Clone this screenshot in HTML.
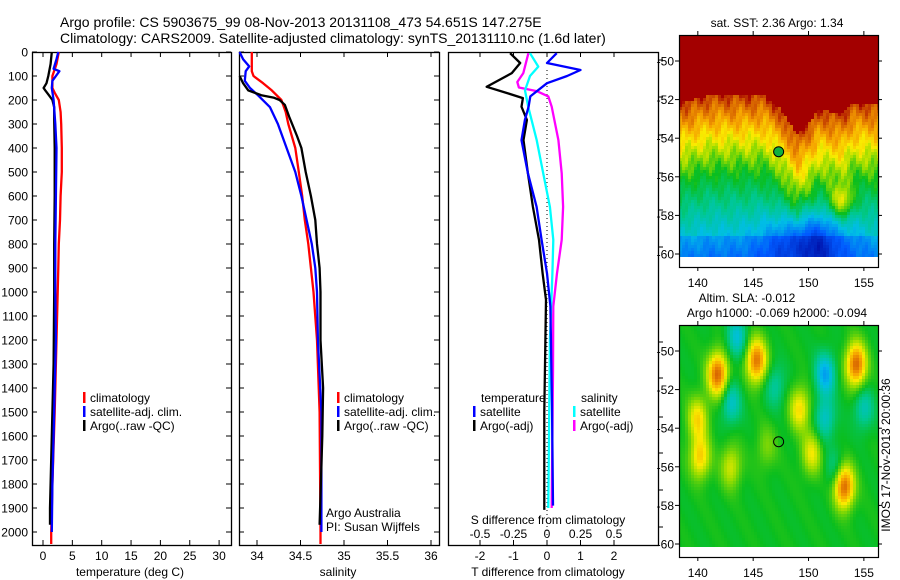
<!DOCTYPE html>
<html><head><meta charset="utf-8">
<style>
html,body{margin:0;padding:0;background:#fff;}
#wrap{position:relative;width:900px;height:580px;overflow:hidden;font-family:"Liberation Sans",sans-serif;}
svg{position:absolute;left:0;top:0;}
canvas{position:absolute;image-rendering:pixelated;}
text{font-family:"Liberation Sans",sans-serif;fill:#000;}
</style></head>
<body>
<div id="wrap">
<canvas id="map1" width="199" height="232" style="left:679px;top:35px"></canvas>
<canvas id="map2" width="199" height="232" style="left:679px;top:325px"></canvas>
<svg id="fig" width="900" height="580" xmlns="http://www.w3.org/2000/svg"></svg>
</div>
<script>
// ---------- data ----------
const depthTicks=[0,100,200,300,400,500,600,700,800,900,1000,1100,1200,1300,1400,1500,1600,1700,1800,1900,2000];
const tempTicks=[0,5,10,15,20,25,30];
const salTicks=[34,34.5,35,35.5,36];
const tdTicks=[-2,-1,0,1,2];
const sdTicks=[-0.5,-0.25,0,0.25,0.5];
const sdTickLabels=['-0.5','-0.25','0','0.25','0.5'];

const tClimDepth=[0,50,100,150,170,200,250,300,400,500,600,700,800,900,1000,1100,1300,1500,1800,2000,2050];
const tClimVal=[2.7,2.3,1.6,1.6,2.0,2.7,3.0,3.1,3.2,3.2,3.0,2.9,2.7,2.6,2.5,2.4,2.2,2.0,1.6,1.4,1.4];
const tSatDepth=[0,30,70,80,120,150,200,300,400,600,800,1000,1200,1400,1600,1800,2000];
const tSatVal=[2.6,2.3,1.8,2.8,1.6,1.5,1.8,2.1,2.3,2.2,2.1,2.1,2.2,2.0,1.8,1.6,1.5];
const tArgoDepth=[0,50,100,130,150,160,180,200,230,280,400,600,800,1000,1300,1500,1700,1900,1970];
const tArgoVal=[1.5,1.3,0.9,0.6,0.1,0.4,1.0,1.6,1.9,1.9,2.0,2.0,1.9,1.9,1.8,1.6,1.4,1.2,1.2];

const sClimDepth=[0,80,100,130,160,200,250,300,400,500,600,700,800,900,1000,1200,1500,2000,2050];
const sClimVal=[33.94,33.94,33.96,34.07,34.17,34.28,34.33,34.36,34.44,34.48,34.52,34.55,34.59,34.62,34.65,34.69,34.72,34.73,34.73];
const sSatDepth=[0,30,60,80,120,150,180,230,300,400,500,600,700,800,900,1000,1200,1500,2000];
const sSatVal=[33.80,33.84,33.91,33.87,33.86,33.92,34.01,34.15,34.24,34.34,34.44,34.51,34.57,34.63,34.67,34.69,34.70,34.74,34.74];
const sArgoDepth=[100,130,160,180,190,200,220,270,350,400,500,600,700,800,900,1000,1200,1400,1600,1970];
const sArgoVal=[33.80,33.84,33.90,34.05,34.19,34.26,34.32,34.37,34.46,34.51,34.56,34.62,34.67,34.69,34.72,34.73,34.73,34.76,34.75,34.72];

const tdArgoDepth=[5,46,88,145,171,192,228,283,367,505,645,783,922,1033,1500,1908];
const tdArgoVal=[-1.1,-0.8,-1.05,-1.8,-1.2,-0.72,-0.76,-0.6,-0.7,-0.57,-0.42,-0.24,-0.13,-0.03,-0.08,-0.08];
const tdSatDepth=[5,46,75,100,130,185,228,283,367,505,645,783,922,1060,1475,1890];
const tdSatVal=[0.29,0,1.0,0.6,0,-0.5,-0.55,-0.66,-0.76,-0.57,-0.31,-0.16,0,0.1,0.15,0.18];
const sdSatDepth=[5,61,100,160,228,367,505,645,783,922,1200,1900];
const sdSatVal=[-0.127,-0.065,-0.127,-0.164,-0.14,-0.077,-0.028,0.022,0.047,0.04,0.022,0.01];
const sdArgoDepth=[5,88,125,148,163,185,228,367,505,645,783,922,1060,1330,1900];
const sdArgoVal=[-0.139,-0.177,-0.222,-0.21,-0.077,0.01,0.035,0.085,0.11,0.12,0.11,0.075,0.047,0.045,0.035];

// ---------- axes ----------
const Y=d=>52+d*0.24;
const xT=v=>43+v*5.87;
const xS=v=>257+(v-34)*87;
const xTD=v=>547+v*33.5;
const xSD=v=>547+v*134;
const TOP=52,BOT=545;
const panels=[{n:'temperature-panel',l:32,r:231},{n:'salinity-panel',l:239,r:439},{n:'difference-panel',l:448,r:658}];

const NS='http://www.w3.org/2000/svg';
const svg=document.getElementById('fig');
function el(tag,attrs,parent){const e=document.createElementNS(NS,tag);for(const k in attrs)e.setAttribute(k,attrs[k]);(parent||svg).appendChild(e);return e;}
function txt(s,x,y,anchor,size,parent){const t=el('text',{x:x,y:y,'text-anchor':anchor||'start','font-size':size||12},parent);t.textContent=s;return t;}

let t1=txt('Argo profile: CS 5903675_99 08-Nov-2013 20131108_473 54.651S 147.275E',60,27,'start',14);


let t2=txt('Climatology: CARS2009. Satellite-adjusted climatology: synTS_20131110.nc (1.6d later)',60,43,'start',14);



panels.forEach((p,i)=>{
  const g=el('g',{});
  
  
  el('rect',{x:p.l+0.5,y:TOP+0.5,width:p.r-p.l,height:BOT-TOP,fill:'none',stroke:'#000','stroke-width':1.3},g);
  depthTicks.forEach(d=>{
    const y=Y(d);
    if(i<2){
      el('line',{x1:p.l,x2:p.l+5,y1:y,y2:y,stroke:'#000'},g);
      el('line',{x1:p.r-5,x2:p.r,y1:y,y2:y,stroke:'#000'},g);
    }
    if(i==0){
      const lab=txt(String(d),28,y+4.5,'end',12);
      
      
    }
  });
});
[60,97,135,173,210,247,342,378,417,453,490,527].forEach(y=>el('line',{x1:659,x2:663,y1:y,y2:y,stroke:'#000'}));

function xticks(vals,fx,labels,ly){
  vals.forEach((v,k)=>{const x=fx(v);
    el('line',{x1:x,x2:x,y1:TOP,y2:TOP+5,stroke:'#000'});
    el('line',{x1:x,x2:x,y1:BOT-5,y2:BOT,stroke:'#000'});
    const lab=txt(labels?labels[k]:String(v),x,ly,'middle',12);
    
    
  });
}
xticks(tempTicks,xT,null,560);
xticks(salTicks,xS,null,560);
xticks(tdTicks,xTD,null,560);
sdTicks.forEach((v,k)=>{const lab=txt(sdTickLabels[k],xSD(v),538,'middle',12);
  
  });
let at;
at=txt('temperature (deg C)',130,576,'middle',12);
at=txt('salinity',338,576,'middle',12);
at=txt('T difference from climatology',548,576,'middle',12);
at=txt('S difference from climatology',548,524,'middle',12);

let zl=el('line',{x1:xTD(0),x2:xTD(0),y1:70,y2:535,stroke:'#000','stroke-dasharray':'1,3'});



function series(depths,vals,fx,color,name){
  const pts=depths.map((d,k)=>fx(vals[k]).toFixed(1)+','+Y(d).toFixed(1)).join(' ');
  const p=el('polyline',{points:pts,fill:'none',stroke:color,'stroke-width':2.3,'stroke-linejoin':'round'});
  
  
}
series(tClimDepth,tClimVal,xT,'#ff0000','temp-climatology-line');
series(tArgoDepth,tArgoVal,xT,'#000000','temp-argo-line');
series(tSatDepth,tSatVal,xT,'#0000ff','temp-satellite-line');
series(sClimDepth,sClimVal,xS,'#ff0000','sal-climatology-line');
series(sSatDepth,sSatVal,xS,'#0000ff','sal-satellite-line');
series(sArgoDepth,sArgoVal,xS,'#000000','sal-argo-line');
series(sdArgoDepth,sdArgoVal,xSD,'#ff00ff','sdiff-argo-line');
series(sdSatDepth,sdSatVal,xSD,'#00ffff','sdiff-satellite-line');
series(tdArgoDepth,tdArgoVal,xTD,'#000000','tdiff-argo-line');
series(tdSatDepth,tdSatVal,xTD,'#0000ff','tdiff-satellite-line');

function legend(x,y,color,label){
  const g=el('g',{});
  
  
  if(color) el('rect',{x:x,y:y-10,width:2.5,height:11,fill:color},g);
  txt(label,x+7,y,'start',12,g);
}
legend(83,402,'#ff0000','climatology');legend(83,416,'#0000ff','satellite-adj. clim.');legend(83,430,'#000','Argo(..raw -QC)');
legend(337,402,'#ff0000','climatology');legend(337,416,'#0000ff','satellite-adj. clim.');legend(337,430,'#000','Argo(..raw -QC)');
legend(474,402,null,'temperature');legend(473,416,'#0000ff','satellite');legend(473,430,'#000','Argo(-adj)');
legend(574,402,null,'salinity');legend(573,416,'#00ffff','satellite');legend(573,430,'#ff00ff','Argo(-adj)');
at=txt('Argo Australia',326,517,'start',12);
at=txt('PI: Susan Wijffels',326,531,'start',12);

// ---------- maps ----------
const lonTicks=[140,145,150,155];
const latTicks=[-50,-52,-54,-56,-58,-60];
const floatLon=147.3, floatLat=-54.7;
const mx=lon=>679+(lon-138.3)*11.07;
const my1=lat=>61+(-50-lat)*19.3;
const my2=lat=>351+(-50-lat)*19.3;

const cmapStops=[[0,[0,0,150]],[0.2,[0,90,255]],[0.33,[0,190,230]],[0.42,[0,200,140]],[0.5,[10,190,30]],[0.6,[150,220,0]],[0.68,[250,235,0]],[0.78,[245,160,0]],[0.87,[210,90,0]],[0.94,[165,0,0]],[1,[160,0,0]]];
function cmap(v){v=Math.max(0,Math.min(1,v));
  for(let i=1;i<cmapStops.length;i++){if(v<=cmapStops[i][0]){const a=cmapStops[i-1],b=cmapStops[i];const t=(v-a[0])/(b[0]-a[0]);
    return a[1].map((c,k)=>Math.round(c+t*(b[1][k]-c)));}}
  return cmapStops[cmapStops.length-1][1];}
function interp(xs,ys,x){if(x<=xs[0])return ys[0];for(let i=1;i<xs.length;i++)if(x<=xs[i]){const t=(x-xs[i-1])/(xs[i]-xs[i-1]);return ys[i-1]+t*(ys[i]-ys[i-1]);}return ys[ys.length-1];}
const frontLon=[138.3,141,146,147.5,149,150,151,153,154,156.3];
const frontLat=[-52.2,-51.8,-51.8,-52.5,-53.8,-53.2,-52.5,-52.8,-52.2,-52.2];
const blobs=[[141.8,-51.2,0.36],[145.3,-50.5,0.34],[154.3,-50.7,0.36],[153.2,-57,0.38],[140,-53.5,0.2],[140.2,-55.5,0.22],[149.2,-53,0.2],[150.3,-55.3,0.17],[143,-56,0.15],[146.2,-55,0.08],
  [143.5,-49.3,-0.15],[143,-52.7,-0.14],[151.5,-51.2,-0.2],[151.5,-53.5,-0.14],[155,-53,-0.12],[147,-51.8,-0.1],[152.5,-56.2,-0.1]];
function drawMap(id,fn){
  const c=document.getElementById(id).getContext('2d');
  c.fillStyle='#fff';c.fillRect(0,0,199,232);
  const cell=3;
  for(let px=0;px<199;px+=cell)for(let py=0;py<232;py+=cell){
    const lon=138.3+(px+1.5)/11.07, lat=-50-((py+35+1.5)-61)/19.3;
    if(lat<-60.1)continue;
    const [r,g,b]=cmap(fn(lon,lat));
    c.fillStyle='rgb('+r+','+g+','+b+')';c.fillRect(px,py,cell,cell);
  }
}
drawMap('map1',(lon,lat)=>{
  const f=interp(frontLon,frontLat,lon);
  const n=0.03*Math.sin(lon*3.1+lat*2.3)+0.025*Math.sin(lon*7.3-lat*5.1);
  if(lat>f) return 0.97;
  let v=0.9-(f-lat)*0.1+n;
  if(v<0.5) v=0.5-(0.5-v)*0.5;
  const bx=(lon-150)/3.2, by=(lat+59.5)/1.6;
  v-=0.25*Math.exp(-(bx*bx+by*by));
  if(lat<-59) v-=0.05;
  const dy=(lat+57.2)/0.8, dx=(lon-153)/1.0;
  v+=0.2*Math.exp(-(dx*dx+dy*dy));
  return v;
});
drawMap('map2',(lon,lat)=>{
  let v=0.5+0.01*Math.sin(lon*2.1+lat*1.7);
  blobs.forEach(b=>{const dx=(lon-b[0])/0.9,dy=(lat-b[1])/1.1;v+=b[2]*Math.exp(-(dx*dx+dy*dy));});
  return v;
});
function mapAxes(my,top,name){
  const g=el('g',{});
  
  
  el('rect',{x:679.5,y:top+0.5,width:199,height:232,fill:'none',stroke:'#000','stroke-width':1.2},g);
  lonTicks.forEach(l=>{const x=mx(l);el('line',{x1:x,x2:x,y1:top-4,y2:top,stroke:'#000'},g);
    el('line',{x1:x,x2:x,y1:top+232,y2:top+236,stroke:'#000'},g);
    txt(String(l),x,top+252,'middle',12,g);});
  latTicks.forEach(l=>{const y=my(l);el('line',{x1:675,x2:679,y1:y,y2:y,stroke:'#000'},g);
    el('line',{x1:878,x2:882,y1:y,y2:y,stroke:'#000'},g);
    txt(String(l),674,y+4.5,'end',12,g);});
}
mapAxes(my1,35,'sst-map-axes');
mapAxes(my2,325,'sla-map-axes');
let c1=el('circle',{cx:mx(floatLon),cy:my1(floatLat),r:5,fill:'#10b040',stroke:'#000'});


let c2=el('circle',{cx:mx(floatLon),cy:my2(floatLat),r:5,fill:'none',stroke:'#000'});


at=txt('sat. SST: 2.36 Argo: 1.34',777,27,'middle',12);
at=txt('Altim. SLA: -0.012',747,302,'middle',12);
at=txt('Argo h1000: -0.069 h2000: -0.094',777,317,'middle',12);
at=txt('IMOS 17-Nov-2013 20:00:36',0,0,'middle',12);
at.setAttribute('transform','translate(890,455) rotate(-90)');


</script>
</body></html>
